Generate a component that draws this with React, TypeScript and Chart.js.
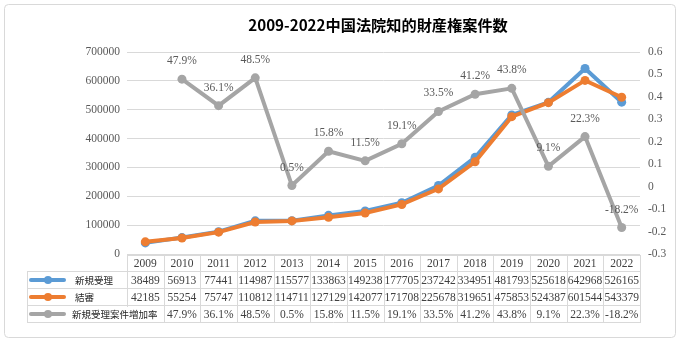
import React, { useEffect, useRef } from "react";
import { Chart, registerables } from "chart.js";

Chart.register(...registerables);

const years = ["2009", "2010", "2011", "2012", "2013", "2014", "2015", "2016", "2017", "2018", "2019", "2020", "2021", "2022"];
const newCases = [38489, 56913, 77441, 114987, 115577, 133863, 149238, 177705, 237242, 334951, 481793, 525618, 642968, 526165];
const closedCases = [42185, 55254, 75747, 110812, 114711, 127129, 142077, 171708, 225678, 319651, 475853, 524387, 601544, 543379];
const growthRate = [null, 0.479, 0.361, 0.485, 0.005, 0.158, 0.115, 0.191, 0.335, 0.412, 0.438, 0.091, 0.223, -0.182];
const growthLabels = ["", "47.9%", "36.1%", "48.5%", "0.5%", "15.8%", "11.5%", "19.1%", "33.5%", "41.2%", "43.8%", "9.1%", "22.3%", "-18.2%"];
const seriesNames = ["新規受理", "結審", "新規受理案件増加率"];
const titleText = "2009-2022中国法院知的財産権案件数";

const BLUE = "#5B9BD5";
const ORANGE = "#ED7D31";
const GRAY = "#A5A5A5";
const GRID = "#D9D9D9";
const TEXT = "#595959";
const SERIF = "'Liberation Serif', 'DejaVu Serif', serif";
const CJK = "'Noto Sans CJK JP', 'Noto Sans', sans-serif";

const deco = {
  id: "deco",
  beforeDraw(chart: any) {
    const ctx = chart.ctx;
    ctx.save();
    ctx.fillStyle = "#ffffff";
    ctx.fillRect(0, 0, chart.width, chart.height);
    ctx.strokeStyle = GRID;
    ctx.lineWidth = 1;
    ctx.beginPath();
    if (ctx.roundRect) ctx.roundRect(4.5, 4.5, 671, 333, 4);
    else ctx.rect(4.5, 4.5, 671, 333);
    ctx.stroke();
    // title
    ctx.fillStyle = "#000000";
    ctx.font = `bold 15.2px ${CJK}`;
    ctx.textAlign = "center";
    ctx.textBaseline = "middle";
    ctx.fillText(titleText, 378, 25);
    ctx.restore();
  },
  afterDatasetsDraw(chart: any) {
    const ctx = chart.ctx;
    const meta = chart.getDatasetMeta(2);
    ctx.save();
    ctx.fillStyle = TEXT;
    ctx.font = `11.5px ${SERIF}`;
    ctx.textAlign = "center";
    ctx.textBaseline = "middle";
    meta.data.forEach((p: any, i: number) => {
      if (!growthLabels[i]) return;
      ctx.fillText(growthLabels[i], p.x, p.y - 18);
    });
    ctx.restore();
  },
  afterDraw(chart: any) {
    const ctx = chart.ctx;
    const ca = chart.chartArea;
    const n = years.length;
    const w = (ca.right - ca.left) / n;
    const ys = [255, 271, 288, 305, 322];
    const legLeft = 27;
    ctx.save();
    ctx.strokeStyle = GRID;
    ctx.lineWidth = 1;
    ctx.beginPath();
    ctx.moveTo(ca.left, ys[0] + 0.5);
    ctx.lineTo(ca.right, ys[0] + 0.5);
    for (let r = 1; r < ys.length; r++) {
      ctx.moveTo(legLeft, ys[r] + 0.5);
      ctx.lineTo(ca.right, ys[r] + 0.5);
    }
    for (let i = 0; i <= n; i++) {
      const x = Math.round(ca.left + i * w) + 0.5;
      ctx.moveTo(x, ys[0]);
      ctx.lineTo(x, ys[4] + 1);
    }
    ctx.moveTo(legLeft + 0.5, ys[1]);
    ctx.lineTo(legLeft + 0.5, ys[4] + 1);
    ctx.stroke();

    // cell text
    ctx.fillStyle = "#404040";
    ctx.font = `11.5px ${SERIF}`;
    ctx.textAlign = "center";
    ctx.textBaseline = "middle";
    const rows = [
      years,
      newCases.map(String),
      closedCases.map(String),
      growthLabels,
    ];
    rows.forEach((row, r) => {
      const cy = (ys[r] + ys[r + 1]) / 2 + 1;
      row.forEach((t, i) => {
        if (!t) return;
        const cx = ca.left + (i + 0.5) * w;
        ctx.fillText(t, cx, cy);
      });
    });

    // legend keys
    const colors = [BLUE, ORANGE, GRAY];
    colors.forEach((c, k) => {
      const cy = (ys[k + 1] + ys[k + 2]) / 2 + 0.5;
      const tx = k === 2 ? 72 : 75;
      if (k === 2) {
        ctx.fillStyle = "#ffffff";
        ctx.fillRect(70, cy - 7, 79, 15);
      }
      ctx.strokeStyle = c;
      ctx.lineWidth = 4;
      ctx.lineCap = "round";
      ctx.beginPath();
      ctx.moveTo(31, cy);
      ctx.lineTo(64, cy);
      ctx.stroke();
      ctx.fillStyle = c;
      ctx.beginPath();
      ctx.arc(48, cy, 4, 0, Math.PI * 2);
      ctx.fill();
      ctx.fillStyle = "#262626";
      ctx.font = `9.5px ${CJK}`;
      ctx.textAlign = "left";
      ctx.fillText(seriesNames[k], tx, cy);
    });
    ctx.restore();
  },
};

export default function App() {
  const ref = useRef<HTMLCanvasElement>(null);
  useEffect(() => {
    if (!ref.current) return;
    const chart = new Chart(ref.current, {
      type: "line",
      data: {
        labels: years,
        datasets: [
          {
            label: seriesNames[0],
            data: newCases,
            borderColor: BLUE,
            backgroundColor: BLUE,
            borderWidth: 4,
            pointRadius: 4.5,
            pointBorderWidth: 0,
            yAxisID: "y",
            order: 2,
          },
          {
            label: seriesNames[1],
            data: closedCases,
            borderColor: ORANGE,
            backgroundColor: ORANGE,
            borderWidth: 4,
            pointRadius: 4.5,
            pointBorderWidth: 0,
            yAxisID: "y",
            order: 1,
          },
          {
            label: seriesNames[2],
            data: growthRate,
            borderColor: GRAY,
            backgroundColor: GRAY,
            borderWidth: 4,
            pointRadius: 4.5,
            pointBorderWidth: 0,
            yAxisID: "y1",
            order: 0,
          },
        ],
      },
      options: {
        responsive: false,
        devicePixelRatio: 1,
        animation: false,
        layout: { padding: { top: 52, bottom: 88, left: 0, right: 0 } },
        plugins: {
          legend: { display: false },
          title: { display: false },
          tooltip: { enabled: false },
        },
        scales: {
          x: {
            type: "category",
            display: false,
            offset: true,
          },
          y: {
            position: "left",
            min: 0,
            max: 700000,
            ticks: {
              stepSize: 100000,
              padding: 7,
              color: TEXT,
              font: { family: SERIF, size: 11.5 },
              callback: (v: any) => String(Math.round(Number(v))),
            },
            grid: { color: GRID, drawTicks: false, lineWidth: 1 },
            border: { display: false },
            afterFit: (s: any) => {
              s.width = 127;
            },
          },
          y1: {
            position: "right",
            min: -0.3,
            max: 0.6,
            ticks: {
              stepSize: 0.1,
              padding: 8,
              color: TEXT,
              font: { family: SERIF, size: 11.5 },
              callback: (v: any) => {
                const n = Number(v);
                if (Math.abs(n) < 1e-9) return "0";
                return n.toFixed(1);
              },
            },
            grid: { display: false, drawTicks: false },
            border: { display: false },
            afterFit: (s: any) => {
              s.width = 40;
            },
          },
        },
      },
      plugins: [deco],
    } as any);
    return () => chart.destroy();
  }, []);
  return (
    <div style={{ position: "absolute", left: 0, top: 0, width: 680, height: 342 }}>
      <canvas ref={ref} width={680} height={342} style={{ width: 680, height: 342 }} />
    </div>
  );
}
